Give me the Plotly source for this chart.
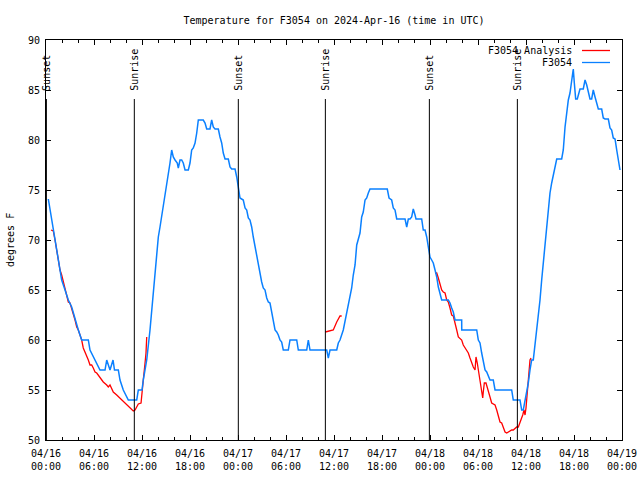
import plotly.graph_objects as go

# ---- data (hours since 2024-04-16 00:00 UTC, degrees F) ----
blue_hours = [0.29, 0.71, 1.13, 1.54, 1.96, 2.38, 2.79, 3.21, 3.63, 4.04, 4.46, 5.29, 5.5, 6.13, 6.75, 7.38, 7.59, 8.0, 8.38, 8.56,
              9.04, 9.25, 9.66, 10.29, 11.34, 11.54, 12.0, 12.16, 12.59, 13.0, 13.41, 13.63, 13.84, 14.04, 14.25, 14.46, 14.66, 14.88,
              15.09, 15.29, 15.5, 15.71, 15.91, 16.13, 16.41, 16.54, 16.75, 16.96, 17.16, 17.38, 17.79, 18.0, 18.21, 18.41, 18.63,
              18.84, 19.04, 19.66, 19.88, 20.09, 20.5, 20.71, 20.91, 21.13, 21.54, 21.75, 21.96, 22.16, 22.38, 22.79, 23.0, 23.21,
              23.63, 23.84, 24.04, 24.25, 24.66, 24.88, 25.09, 25.29, 25.5, 25.71, 25.91, 26.13, 26.34, 26.54, 26.75, 26.96, 27.16,
              27.38, 27.59, 27.79, 28.0, 28.21, 28.41, 28.63, 28.84, 29.04, 29.25, 29.46, 29.66, 30.29, 30.5, 31.34, 31.54, 32.59,
              32.79, 33.0, 35.09, 35.29, 35.5, 36.34, 36.54, 36.75, 37.16, 37.59, 37.91, 38.21, 38.41, 38.63, 38.84, 39.04, 39.25,
              39.46, 39.66, 39.88, 40.09, 40.29, 40.5, 42.66, 42.88, 43.21, 43.41, 43.63, 43.84, 44.88, 45.09, 45.29, 45.5, 45.71,
              45.91, 46.13, 46.25, 46.96, 47.16, 47.38, 47.59, 47.79, 48.0, 48.21, 48.41, 48.63, 48.84, 49.04, 49.25, 49.46, 50.29,
              50.5, 50.71, 50.91, 51.13, 51.96, 51.97, 53.84, 54.04, 54.25, 54.46, 54.66, 54.88, 55.09, 55.29, 55.5, 55.91, 56.13,
              58.21, 58.41, 59.25, 59.46, 59.66, 59.88, 60.09, 60.29, 60.5, 60.71, 60.91, 61.13, 61.34, 61.54, 61.75, 61.96, 62.16,
              62.38, 62.59, 62.79, 63.0, 63.21, 63.41, 63.63, 63.84, 64.46, 64.66, 64.88, 65.09, 65.29, 65.5, 65.71, 65.84, 65.91,
              66.04, 66.21, 66.41, 66.63, 66.75, 67.16, 67.38, 67.59, 67.79, 68.0, 68.21, 68.41, 68.63, 68.84, 69.04, 69.46, 69.66,
              69.88, 70.29, 70.5, 70.71, 70.91, 71.13, 71.34, 71.54, 71.75]
blue_temp = [74.1, 72, 70, 68, 66, 65, 64, 63.3, 62, 61, 60, 60, 59, 58, 57, 57, 58, 57, 58, 57,
             57, 56, 55, 54, 54, 55, 55, 56, 58, 61, 65, 66.3, 68.7, 70.3, 71.3, 72.3, 73.7, 74.7,
             75.7, 76.5, 77.7, 79, 78.3, 78, 77.7, 77.2, 78, 78, 77.7, 77, 77, 77.7, 79, 79.2, 79.7,
             80.7, 82, 82, 81.7, 81.1, 81.1, 82, 81.3, 81.1, 81.1, 80.3, 79.7, 78.7, 78.1, 78.1, 77.3, 77.1,
             77.1, 76.3, 75, 74.2, 74, 73.2, 73, 72.2, 72, 71.3, 70.3, 69.3, 68.3, 67.5, 66.7, 65.8, 65.2,
             65, 64.2, 63.8, 63.7, 62.7, 61.7, 61, 60.8, 60.5, 60, 59.8, 59, 59, 60, 60, 59, 59,
             60, 59, 59, 58.2, 59, 59, 59.7, 60, 61, 62.7, 64.2, 65.2, 66.5, 67.5, 69.5, 70.1, 70.7,
             72.3, 72.8, 74, 74.2, 74.7, 75.1, 75.1, 74.2, 74, 73.2, 73, 72.1, 72.1, 71.3, 72.1, 72.1, 72.3,
             73.1, 72.5, 72.1, 72.1, 71, 71, 70.3, 69.3, 68.3, 68, 67.7, 67, 66.3, 65.3, 64.7, 64, 64,
             63.7, 63.2, 62.8, 62, 62, 61, 61, 60, 59.7, 58.7, 58, 57, 56.8, 56.3, 56, 56, 55,
             55, 54, 54, 53, 53, 54, 54.7, 55.7, 57, 58, 58, 59.5, 61, 62.7, 64, 66, 67.7,
             69.5, 71.5, 73, 74.7, 75.7, 76.5, 77.3, 78.1, 78.1, 79, 81.3, 82.7, 84, 84.7, 85.7, 86.5, 87.1,
             85.7, 84.1, 84.1, 84.7, 85.1, 85.1, 86, 85.5, 84.7, 84.1, 84.1, 85, 84.3, 83.7, 83.1, 83.1, 82.2,
             82.1, 82.1, 81.2, 81, 80.2, 80.1, 79, 77.8, 77]

red_hours = [0.63, 0.91, 1.13, 1.34, 1.54, 1.75, 1.96, 2.16, 2.38, 2.59, 2.79, 3.0, 3.21, 3.41, 3.63, 3.84, 4.04, 4.25, 4.46,
             4.66, 4.88, 5.09, 5.29, 5.5, 5.71, 5.91, 6.13, 6.34, 6.75, 7.16, 7.59, 7.79, 8.0, 8.21, 8.41, 8.84, 9.25, 9.66,
             10.09, 10.5, 10.91, 11.13, 11.34, 11.54, 11.88, 12.04, 12.16, 12.38, 12.5, 12.59,
             None,
             34.91, 35.71, 35.91, 36.34, 36.75, 36.96,
             None,
             48.63, 48.84, 49.04, 49.25, 49.46, 49.66, 49.88, 50.09, 50.29, 50.5, 50.71, 50.91, 51.13, 51.34, 51.54, 51.75,
             51.96, 52.16, 52.59, 52.79, 53.0, 53.21, 53.41, 53.63, 53.75, 53.91, 54.04, 54.25, 54.46, 54.59, 54.66, 54.79,
             55.0, 55.29, 55.5, 55.71, 56.13, 56.34, 56.54, 56.75, 56.96, 57.16, 57.38, 57.59, 57.79, 58.21, 58.41, 58.63,
             58.84, 59.04, 59.25, 59.46, 59.59, 59.75, 59.88, 60.0, 60.16, 60.29, 60.41, 60.5, 60.63]
red_temp = [71, 70.9, 70, 69, 68, 67, 66.5, 65.8, 65.3, 64.5, 63.8, 63.7, 63.2, 62.7, 62, 61.3, 61, 60.5, 60,
            59.2, 58.8, 58.5, 58, 57.5, 57.5, 57.2, 56.8, 56.7, 56.2, 55.8, 55.5, 55.3, 55.5, 55.2, 54.8, 54.5, 54.2, 53.8,
            53.5, 53.2, 52.9, 53, 53.3, 53.6, 53.7, 54.7, 56, 57.7, 58.7, 60.3,
            None,
            60.8, 60.9, 61.0, 61.8, 62.4, 62.4,
            None,
            66.7, 66.7, 66.2, 65.5, 65, 64.8, 64.7, 64, 63.8, 63.2, 62.5, 62.4, 61.8, 61, 60.3, 60.1,
            60.0, 59.5, 59, 58.7, 58.2, 57.7, 57.3, 57, 58.3, 57.7, 57, 56, 55, 54.2, 54.8, 55.7,
            55.7, 55, 54.3, 53.7, 53.5, 53, 52.3, 51.8, 51.7, 51.3, 50.8, 50.7, 50.8, 51, 51, 51.2,
            51.3, 51.3, 51.7, 52.2, 52.5, 53, 52.5, 53.2, 54.7, 56, 57, 58, 58.2]

sunset_hours = [0.05, 24.04, 47.92]
sunrise_hours = [11.04, 34.92, 58.92]

x_tick_hours = [0, 6, 12, 18, 24, 30, 36, 42, 48, 54, 60, 66, 72]
x_tick_labels = ["04/16<br>00:00", "04/16<br>06:00", "04/16<br>12:00", "04/16<br>18:00",
                 "04/17<br>00:00", "04/17<br>06:00", "04/17<br>12:00", "04/17<br>18:00",
                 "04/18<br>00:00", "04/18<br>06:00", "04/18<br>12:00", "04/18<br>18:00",
                 "04/19<br>00:00"]
y_ticks = [50, 55, 60, 65, 70, 75, 80, 85, 90]

RED = "#ff0000"
BLUE = "#0a80ff"
FONT = "DejaVu Sans Mono"

fig = go.Figure()
fig.add_trace(go.Scatter(x=red_hours, y=red_temp, mode="lines", name="F3054 Analysis",
                         line=dict(color=RED, width=1.3), showlegend=False, connectgaps=False))
fig.add_trace(go.Scatter(x=blue_hours, y=blue_temp, mode="lines", name="F3054",
                         line=dict(color=BLUE, width=1.5), showlegend=False))

shapes = []
annotations = []
for h in sunset_hours:
    shapes.append(dict(type="line", xref="x", yref="y", x0=h, x1=h, y0=50, y1=84.1,
                       line=dict(color="black", width=1)))
    annotations.append(dict(x=h, y=84.75, xref="x", yref="y", text="Sunset", textangle=-90,
                            showarrow=False, xanchor="center", yanchor="bottom",
                            font=dict(family=FONT, size=10, color="black")))
for h in sunrise_hours:
    shapes.append(dict(type="line", xref="x", yref="y", x0=h, x1=h, y0=50, y1=84.1,
                       line=dict(color="black", width=1)))
    annotations.append(dict(x=h, y=84.75, xref="x", yref="y", text="Sunrise", textangle=-90,
                            showarrow=False, xanchor="center", yanchor="bottom",
                            font=dict(family=FONT, size=10, color="black")))

# custom gnuplot-style legend (text right of which the sample line sits)
L, W, T, H = 46, 576, 40, 400
def px(x):
    return (x - L) / W
def py(y):
    return (T + H - y) / H
legend_rows = [("F3054 Analysis", RED, 50.5), ("F3054", BLUE, 62.5)]
for label, col, yy in legend_rows:
    annotations.append(dict(x=px(574), y=py(yy), xref="paper", yref="paper", text=label,
                            showarrow=False, xanchor="right", yanchor="middle",
                            font=dict(family=FONT, size=10, color="black")))
    shapes.append(dict(type="line", xref="paper", yref="paper", x0=px(582), x1=px(610),
                       y0=py(yy), y1=py(yy), line=dict(color=col, width=1.3)))

annotations.append(dict(x=px(10), y=0.5, xref="paper", yref="paper", text="degrees F",
                        textangle=-90, showarrow=False, xanchor="center", yanchor="middle",
                        font=dict(family=FONT, size=10, color="black")))

fig.update_layout(
    width=640, height=480,
    margin=dict(l=46, r=18, t=40, b=40, autoexpand=False),
    paper_bgcolor="white", plot_bgcolor="white",
    title=dict(text="Temperature for F3054 on 2024-Apr-16 (time in UTC)", x=(46 + 288) / 640,
               xanchor="center", y=1 - 20 / 480, yanchor="middle",
               font=dict(family=FONT, size=10, color="black")),
    font=dict(family=FONT, size=10, color="black"),
    shapes=shapes, annotations=annotations,
)
fig.update_xaxes(range=[0, 72], tickmode="array", tickvals=x_tick_hours, ticktext=x_tick_labels,
                 ticks="inside", ticklen=5, tickcolor="black", showgrid=False, zeroline=False,
                 showline=True, linecolor="black", linewidth=1, mirror="allticks", automargin=False,
                 ticklabelstandoff=4,
                 minor=dict(tickmode="linear", tick0=0, dtick=2, ticks="inside", ticklen=3, tickcolor="black"),
                 tickfont=dict(family=FONT, size=10, color="black"))
fig.update_yaxes(range=[50, 90], tickmode="array", tickvals=y_ticks,
                 ticks="inside", ticklen=5, tickcolor="black", showgrid=False, zeroline=False,
                 showline=True, linecolor="black", linewidth=1, mirror="allticks", automargin=False,
                 ticklabelstandoff=3,
                 tickfont=dict(family=FONT, size=10, color="black"))

fig.write_html("out.html")
